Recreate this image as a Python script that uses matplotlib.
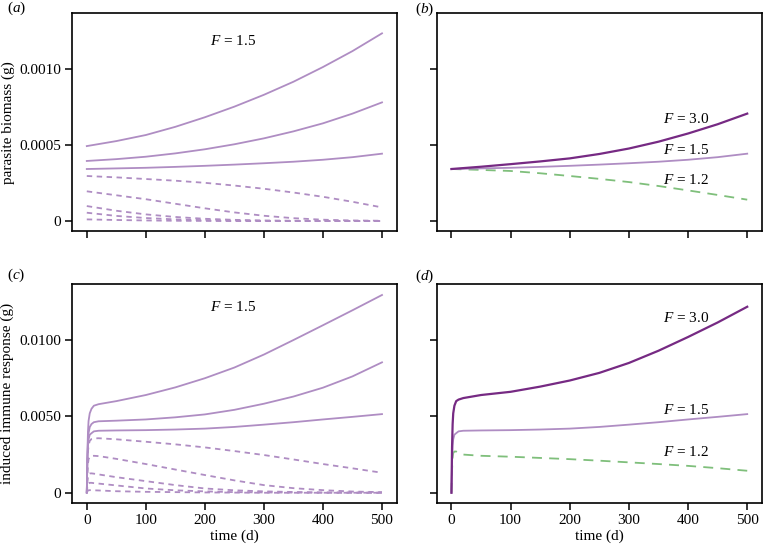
import matplotlib
matplotlib.use("Agg")
import matplotlib.pyplot as plt
from matplotlib.ticker import FixedLocator, FixedFormatter

plt.rcParams['font.family'] = ['Liberation Serif', 'DejaVu Serif']
plt.rcParams['mathtext.fontset'] = 'custom'
plt.rcParams['mathtext.rm'] = 'Liberation Serif'
plt.rcParams['mathtext.it'] = 'Liberation Serif:italic'
plt.rcParams['font.size'] = 11

# colours (PRGn-like)
light_purple = '#af8dc3'
dark_purple = '#762a83'
green = '#7fbf7b'

# ---- parasite biomass (panels a, b) ----
t_bio = [0, 50, 100, 150, 200, 250, 300, 350, 400, 450, 500]

bio_solid = [
    [0.000494, 0.000527, 0.000567, 0.000621, 0.000684, 0.000754, 0.000832, 0.000918, 0.001015, 0.00112, 0.001237],
    [0.000396, 0.000408, 0.000424, 0.000446, 0.000473, 0.000506, 0.000545, 0.000591, 0.000644, 0.000708, 0.000782],
    [0.000343, 0.000347, 0.000351, 0.000357, 0.000364, 0.000372, 0.000381, 0.000391, 0.000404, 0.000421, 0.000444],
]
bio_dashed = [
    [0.000297, 0.000288, 0.000277, 0.000266, 0.000252, 0.000234, 0.000213, 0.000188, 0.00016, 0.000127, 0.00009],
    [0.000196, 0.00017, 0.000144, 0.000114, 0.000084, 0.000057, 0.000035, 0.000019, 0.000009, 0.000004, 0.000002],
    [0.0000989, 0.000068, 0.000044, 0.000027, 0.000015, 0.000008, 0.000004, 0.000002, 0.000001, 0, 0],
    [0.000055, 0.000034, 0.00002, 0.000011, 0.000006, 0.000003, 0.000001, 0, 0, 0, 0],
    [0.000011, 0.000007, 0.000004, 0.000002, 0.000001, 0, 0, 0, 0, 0, 0],
]
bio_F30 = [0.000343, 0.000358, 0.000375, 0.000393, 0.000413, 0.000442, 0.000478, 0.000523, 0.000577, 0.000638, 0.000708]
bio_F15 = bio_solid[2]
bio_F12 = [0.000343, 0.000337, 0.00033, 0.000315, 0.000297, 0.000278, 0.000257, 0.000231, 0.000202, 0.000172, 0.000141]

# ---- induced immune response (panels c, d) ----
t_imm = [0, 1, 2, 3, 5, 8, 12, 20, 50, 100, 150, 200, 250, 300, 350, 400, 450, 500]

imm_solid = [
    [0, 0.0025, 0.0040, 0.0047, 0.0052, 0.0055, 0.0057, 0.0058, 0.0060, 0.0064, 0.0069, 0.0075, 0.0082, 0.00905, 0.0100, 0.01097, 0.01195, 0.01295],
    [0, 0.0022, 0.0034, 0.0039, 0.0043, 0.0045, 0.00462, 0.00468, 0.00472, 0.0048, 0.00494, 0.00513, 0.00543, 0.00583, 0.0063, 0.00688, 0.00762, 0.00854],
    [0, 0.0020, 0.0031, 0.0035, 0.0038, 0.0039, 0.00402, 0.00406, 0.00408, 0.0041, 0.00414, 0.0042, 0.00431, 0.00446, 0.00462, 0.0048, 0.00497, 0.00515],
]
imm_dashed = [
    [0, 0.0018, 0.0027, 0.0031, 0.0034, 0.00352, 0.00356, 0.00357, 0.0035, 0.00334, 0.00317, 0.00297, 0.00273, 0.00247, 0.00218, 0.00188, 0.0016, 0.00131],
    [0, 0.0013, 0.0019, 0.0022, 0.00235, 0.0024, 0.00242, 0.0024, 0.00222, 0.00188, 0.00152, 0.00116, 0.00081, 0.0005, 0.0003, 0.00017, 0.00008, 0.00004],
    [0, 0.0007, 0.00105, 0.0012, 0.00126, 0.00127, 0.00125, 0.0012, 0.00102, 0.00076, 0.0005, 0.00028, 0.00016, 0.00009, 0.00005, 0.00002, 0.00001, 0],
    [0, 0.0004, 0.00055, 0.00062, 0.00065, 0.00065, 0.00063, 0.0006, 0.00048, 0.00028, 0.00016, 0.00009, 0.00004, 0.00002, 0.00001, 0, 0, 0],
    [0, 0.0001, 0.00014, 0.00016, 0.00017, 0.00017, 0.00016, 0.00015, 0.0001, 0.00006, 0.00004, 0.00002, 0.00001, 0, 0, 0, 0, 0],
]
imm_F30 = [0, 0.003, 0.0045, 0.0052, 0.0057, 0.006, 0.0061, 0.0062, 0.0064, 0.00661, 0.00695, 0.00735, 0.00785, 0.0085, 0.0093, 0.0102, 0.01115, 0.01218]
imm_F15 = imm_solid[2]
imm_F12 = [0, 0.0015, 0.0023, 0.0026, 0.0027, 0.0027, 0.0026, 0.0025, 0.00242, 0.00236, 0.00228, 0.0022, 0.0021, 0.00199, 0.00188, 0.00176, 0.00161, 0.00144]

x_ticks = [0, 100, 200, 300, 400, 500]
bio_ticks = [0, 0.0005, 0.0010]
bio_tick_labels = ['0', '0.0005', '0.0010']
imm_ticks = [0, 0.005, 0.010]
imm_tick_labels = ['0', '0.0050', '0.0100']

fig = plt.figure(figsize=(7.63, 5.45), dpi=100)
ax_a = fig.add_axes([0.0944, 0.576, 0.4256, 0.3996])
ax_b = fig.add_axes([0.5723, 0.576, 0.4264, 0.3996])
ax_c = fig.add_axes([0.0944, 0.0771, 0.4256, 0.4018])
ax_d = fig.add_axes([0.5723, 0.0771, 0.4264, 0.4018])

lw_light = 1.3
lw_dark = 1.6
short_dash = (0, (3, 2.5))
long_dash = (0, (5.5, 4))

for y in bio_solid:
    ax_a.plot(t_bio, y, color=light_purple, lw=lw_light)
for y in bio_dashed:
    ax_a.plot(t_bio, y, color=light_purple, lw=lw_light, linestyle=short_dash)

ax_b.plot(t_bio, bio_F12, color=green, lw=lw_light, linestyle=long_dash)
ax_b.plot(t_bio, bio_F15, color=light_purple, lw=lw_light)
ax_b.plot(t_bio, bio_F30, color=dark_purple, lw=lw_dark)

for y in imm_solid:
    ax_c.plot(t_imm, y, color=light_purple, lw=lw_light)
for y in imm_dashed:
    ax_c.plot(t_imm, y, color=light_purple, lw=lw_light, linestyle=short_dash)

ax_d.plot(t_imm, imm_F12, color=green, lw=lw_light, linestyle=long_dash)
ax_d.plot(t_imm, imm_F15, color=light_purple, lw=lw_light)
ax_d.plot(t_imm, imm_F30, color=dark_purple, lw=lw_dark)

for ax in (ax_a, ax_b):
    ax.set_ylim(-0.000066, 0.001369)
    ax.yaxis.set_major_locator(FixedLocator(bio_ticks))
    ax.yaxis.set_major_formatter(FixedFormatter(bio_tick_labels))
for ax in (ax_c, ax_d):
    ax.set_ylim(-0.00067, 0.01367)
    ax.yaxis.set_major_locator(FixedLocator(imm_ticks))
    ax.yaxis.set_major_formatter(FixedFormatter(imm_tick_labels))

for ax in (ax_a, ax_b, ax_c, ax_d):
    ax.set_xlim(-25, 525)
    ax.set_xticks(x_ticks)
    ax.tick_params(direction='out', length=5, width=1.1, labelsize=11, pad=3)
    for s in ax.spines.values():
        s.set_linewidth(1.2)

ax_a.tick_params(labelbottom=False)
ax_b.tick_params(labelbottom=False, labelleft=False)
ax_d.tick_params(labelleft=False)

ax_a.set_ylabel('parasite biomass (g)', fontsize=11)
ax_c.set_ylabel('induced immune response (g)', fontsize=11)
ax_a.yaxis.set_label_coords(-0.175, 0.5)
ax_c.yaxis.set_label_coords(-0.178, 0.5)
ax_c.set_xlabel('time (d)', fontsize=11, labelpad=2)
ax_d.set_xlabel('time (d)', fontsize=11, labelpad=2)

ax_a.text(248, 0.001187, '$F$ = 1.5', ha='center', va='center', fontsize=11)
ax_c.text(248, 0.01218, '$F$ = 1.5', ha='center', va='center', fontsize=11)

ax_b.text(397, 0.000675, '$F$ = 3.0', ha='center', va='center', fontsize=11)
ax_b.text(397, 0.000471, '$F$ = 1.5', ha='center', va='center', fontsize=11)
ax_b.text(397, 0.000268, '$F$ = 1.2', ha='center', va='center', fontsize=11)
ax_d.text(397, 0.01142, '$F$ = 3.0', ha='center', va='center', fontsize=11)
ax_d.text(397, 0.00542, '$F$ = 1.5', ha='center', va='center', fontsize=11)
ax_d.text(397, 0.00269, '$F$ = 1.2', ha='center', va='center', fontsize=11)

fig.text(0.009, 0.985, '($a$)', ha='left', va='center', fontsize=11)
fig.text(0.544, 0.982, '($b$)', ha='left', va='center', fontsize=11)
fig.text(0.009, 0.495, '($c$)', ha='left', va='center', fontsize=11)
fig.text(0.544, 0.493, '($d$)', ha='left', va='center', fontsize=11)

fig.savefig('out.png', dpi=100)
